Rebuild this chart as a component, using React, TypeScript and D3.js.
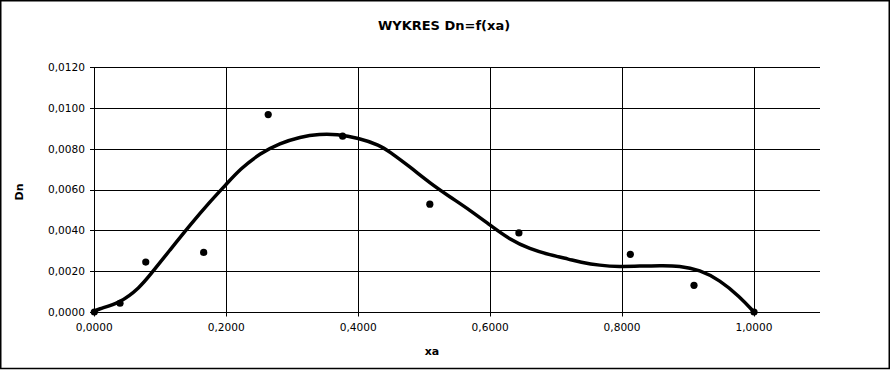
import React from "react";
import * as d3 from "d3";

const title = "WYKRES Dn=f(xa)";
const xTitle = "xa";
const yTitle = "Dn";

// measured points
const xa = [0, 0.039, 0.078, 0.1658, 0.2636, 0.3764, 0.5086, 0.6436, 0.8125, 0.909, 1.0];
const dn = [0, 0.00043, 0.00245, 0.00292, 0.00968, 0.00862, 0.00529, 0.00388, 0.00283, 0.00131, 0];

// trend curve
const curveX = [0, 0.0036, 0.039, 0.0692, 0.0844, 0.1147, 0.145, 0.1753, 0.2006, 0.2208, 0.2511, 0.2814, 0.3117, 0.342, 0.3673, 0.4, 0.4329, 0.4474, 0.4783, 0.5086, 0.5389, 0.5692, 0.5995, 0.6299, 0.6602, 0.6905, 0.7208, 0.7359, 0.7662, 0.7965, 0.8268, 0.8571, 0.8874, 0.9177, 0.948, 0.9783, 1.0];
const curveY = [0, 0.00013, 0.00043, 0.00121, 0.00181, 0.00304, 0.00426, 0.00541, 0.00628, 0.007, 0.00778, 0.00827, 0.00859, 0.00873, 0.00872, 0.00854, 0.00818, 0.00786, 0.00712, 0.00633, 0.00565, 0.005, 0.00427, 0.00355, 0.00309, 0.0028, 0.00258, 0.00245, 0.00228, 0.00222, 0.00225, 0.00228, 0.00227, 0.00206, 0.00157, 0.00075, 0];

const xTicks = [0, 0.2, 0.4, 0.6, 0.8, 1.0];
const yTicks = [0, 0.002, 0.004, 0.006, 0.008, 0.01, 0.012];

const fmt = (v: number) => v.toFixed(4).replace(".", ",");

export default function App() {
  const W = 893, H = 370;
  const x = d3.scaleLinear().domain([0, 1.1]).range([94.3, 820]);
  const y = d3.scaleLinear().domain([0, 0.012]).range([312, 67.3]);
  const line = d3
    .line<number>()
    .x((_, i) => x(curveX[i]))
    .y((d) => y(d))
    .curve(d3.curveBasis);
  const font = "'DejaVu Sans', sans-serif";
  return (
    <svg width={W} height={H} style={{ position: "absolute", left: 0, top: 0, background: "#fff" }} fontFamily={font}>
      <rect x={0} y={0} width={W} height={H} fill="#fff" />
      <rect x={0.75} y={0.75} width={888.5} height={367.75} fill="none" stroke="#000" strokeWidth={1.5} />
      {yTicks.map((t) => (
        <g key={"y" + t}>
          <line x1={90} x2={x(1.1)} y1={Math.round(y(t)) + 0.5} y2={Math.round(y(t)) + 0.5} stroke="#000" strokeWidth={1} />
          <text x={85} y={y(t)} dy="0.35em" textAnchor="end" fontSize={10.6} fill="#000">
            {fmt(t)}
          </text>
        </g>
      ))}
      {xTicks.map((t) => (
        <g key={"x" + t}>
          <line x1={Math.round(x(t)) + 0.5} x2={Math.round(x(t)) + 0.5} y1={y(0.012)} y2={316.5} stroke="#000" strokeWidth={1} />
          <text x={x(t)} y={327.3} dy="0.35em" textAnchor="middle" fontSize={10.6} fill="#000">
            {fmt(t)}
          </text>
        </g>
      ))}
      <path d={line(curveY) || ""} fill="none" stroke="#000" strokeWidth={3.5} strokeLinejoin="round" strokeLinecap="round" />
      {xa.map((v, i) => (
        <circle key={"p" + i} cx={x(v)} cy={y(dn[i])} r={3.6} fill="#000" />
      ))}
      <text x={444} y={25} dy="0.35em" textAnchor="middle" fontSize={13} fontWeight="bold" fill="#000">
        {title}
      </text>
      <text x={432} y={351} dy="0.35em" textAnchor="middle" fontSize={11} fontWeight="bold" fill="#000">
        {xTitle}
      </text>
      <text transform="translate(19,192) rotate(-90)" dy="0.35em" textAnchor="middle" fontSize={11} fontWeight="bold" fill="#000">
        {yTitle}
      </text>
    </svg>
  );
}
